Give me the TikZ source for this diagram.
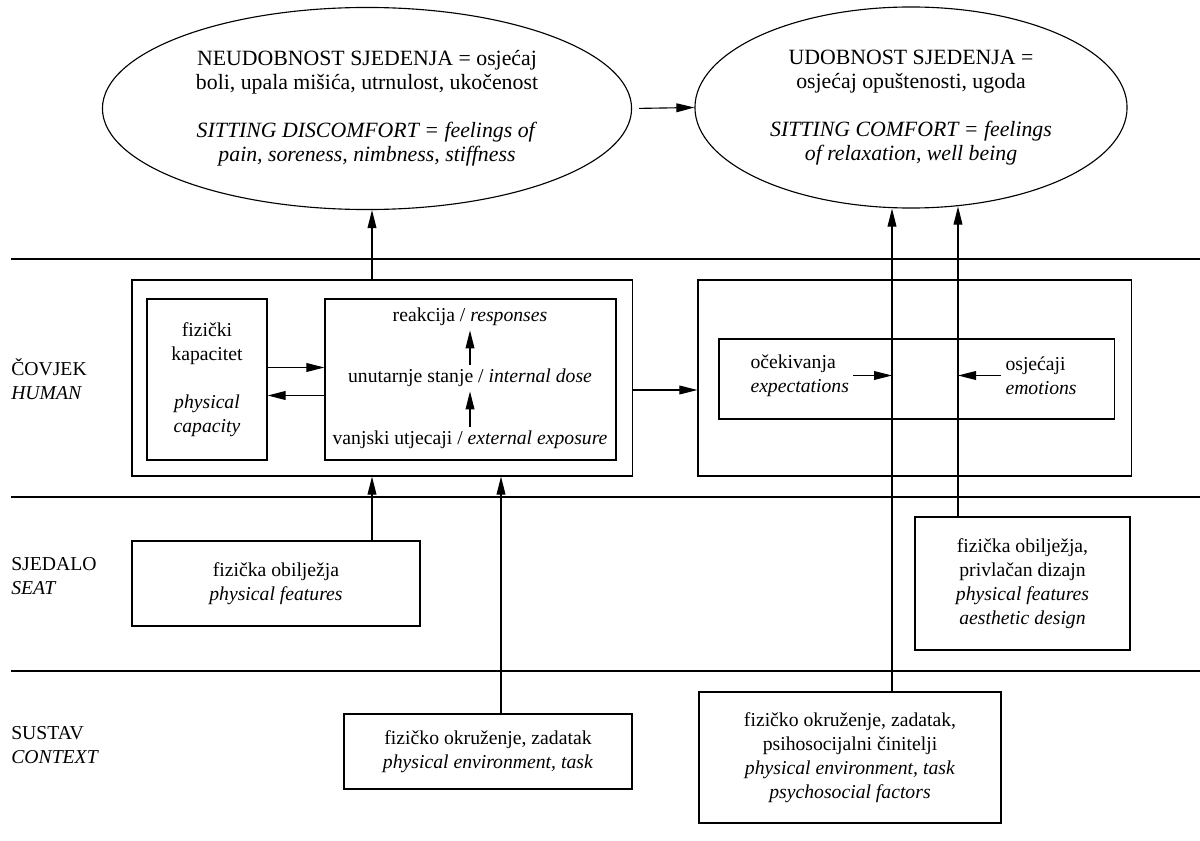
\documentclass[tikz,border=0pt]{standalone}
\usepackage{fontspec}
\setmainfont{Liberation Serif}
\usetikzlibrary{arrows.meta,positioning,shapes.geometric,calc}

\begin{document}
\begin{tikzpicture}[x=0.025cm, y=-0.025cm,
    every node/.style={font=\fontsize{14}{17}\selectfont, align=center},
    box/.style={draw, line width=0.8pt, inner sep=0pt},
    oval/.style={draw, ellipse, line width=0.8pt, inner sep=0pt, font=\fontsize{15.5}{17}\selectfont},
    arr/.style={-{Triangle[length=4.5mm,width=2.2mm]}, line width=0.8pt},
    txt/.style={inner sep=3pt},
    layer/.style={line width=0.8pt}]
    \useasboundingbox (0,0) rectangle (1200,840);
    % outcome ellipses
    \node[oval, minimum width=13.225cm, minimum height=5.05cm] (ell1) at (367,108.5)
        {NEUDOBNOST SJEDENJA = osjećaj\\boli, upala mišića, utrnulost, ukočenost\\[17pt]
         \textit{SITTING DISCOMFORT = feelings of}\\\textit{pain, soreness, nimbness, stiffness}};
    \node[oval, minimum width=10.8cm, minimum height=5.025cm] (ell2) at (911,107.5)
        {UDOBNOST SJEDENJA =\\osjećaj opuštenosti, ugoda\\[17pt]
         \textit{SITTING COMFORT = feelings}\\\textit{of relaxation, well being}};
    \draw[arr, shorten <=1.75mm] (ell1.east) -- (ell2.west);
    % layers
    \draw[layer] (11,259) -- (1200,259);
    \draw[layer] (11,497) -- (1200,497);
    \draw[layer] (11,671) -- (1200,671);
    \node[anchor=west, align=left, inner sep=0pt] (humanlbl) at (11,379) {ČOVJEK\\\textit{HUMAN}};
    \node[anchor=west, align=left, inner sep=0pt] (seatlbl) at (11,576) {SJEDALO\\\textit{SEAT}};
    \node[anchor=west, align=left, inner sep=0pt] (ctxlbl) at (11,745) {SUSTAV\\\textit{CONTEXT}};
    % human
    \node[box, minimum width=12.5cm, minimum height=4.9cm] (humanbox) at (382,378) {};
    \node[box, minimum width=3cm, minimum height=4.025cm] (capbox) at (207,379.5)
        {fizički\\kapacitet\\[17pt]\textit{physical}\\\textit{capacity}};
    \node[box, minimum width=7.275cm, minimum height=4.025cm] (dosebox) at (470.5,379.5) {};
    \node[txt] (resp) at (470,317) {reakcija / \textit{responses}};
    \node[txt] (intd) at (470,378) {unutarnje stanje / \textit{internal dose}};
    \node[txt] (expo) at (470,440) {vanjski utjecaji / \textit{external exposure}};
    \draw[arr] (expo) -- (intd);
    \draw[arr] (intd) -- (resp);
    \draw[arr] ($(capbox.east)+(0,-12)$) -- ($(dosebox.west)+(0,-12)$);
    \draw[arr] ($(dosebox.west)+(0,16)$) -- ($(capbox.east)+(0,16)$);
    \node[box, minimum width=10.825cm, minimum height=4.9cm] (mindbox) at (914.5,378) {};
    \node[box, minimum width=9.875cm, minimum height=2cm] (feelbox) at (916.5,379) {};
    \node[txt, anchor=west, align=left] (expect) at (746,375.5) {očekivanja\\\textit{expectations}};
    \node[txt, anchor=west, align=left] (emot) at (1001,375.5) {osjećaji\\\textit{emotions}};
    \draw[arr] ($(humanbox.east)+(0,12)$) -- ($(mindbox.west)+(0,12)$);
    % seat
    \node[box, minimum width=7.2cm, minimum height=2.125cm] (seatleft) at (276,583.5)
        {fizička obilježja\\\textit{physical features}};
    \node[box, minimum width=5.375cm, minimum height=3.325cm] (seatright) at (1022.5,583.5)
        {fizička obilježja,\\privlačan dizajn\\\textit{physical features}\\\textit{aesthetic design}};
    % context
    \node[box, minimum width=7.2cm, minimum height=1.875cm] (ctxleft) at (488,751.5)
        {fizičko okruženje, zadatak\\\textit{physical environment, task}};
    \node[box, minimum width=7.55cm, minimum height=3.275cm] (ctxright) at (850,757.5)
        {fizičko okruženje, zadatak,\\psihosocijalni činitelji\\\textit{physical environment, task}\\\textit{psychosocial factors}};
    % connectors
    \coordinate (a0) at (372,0);
    \coordinate (a1) at (501,0);
    \coordinate (l1) at (892,0);
    \coordinate (l2) at (958,0);
    \draw[arr] (humanbox.north -| a0) -- (a0 |- ell1.south);
    \draw[arr] (seatleft.north -| a0) -- (humanbox.south -| a0);
    \draw[arr] (ctxleft.north -| a1) -- (humanbox.south -| a1);
    \draw[arr] (ctxright.north -| l1) -- (l1 |- ell2.south);
    \draw[arr] (seatright.north -| l2) -- ($(l2 |- ell2.south)+(0,-2)$);
    \draw[arr] (expect.east) -- (expect.east -| l1);
    \draw[arr] (emot.west) -- (emot.west -| l2);
\end{tikzpicture}
\end{document}
